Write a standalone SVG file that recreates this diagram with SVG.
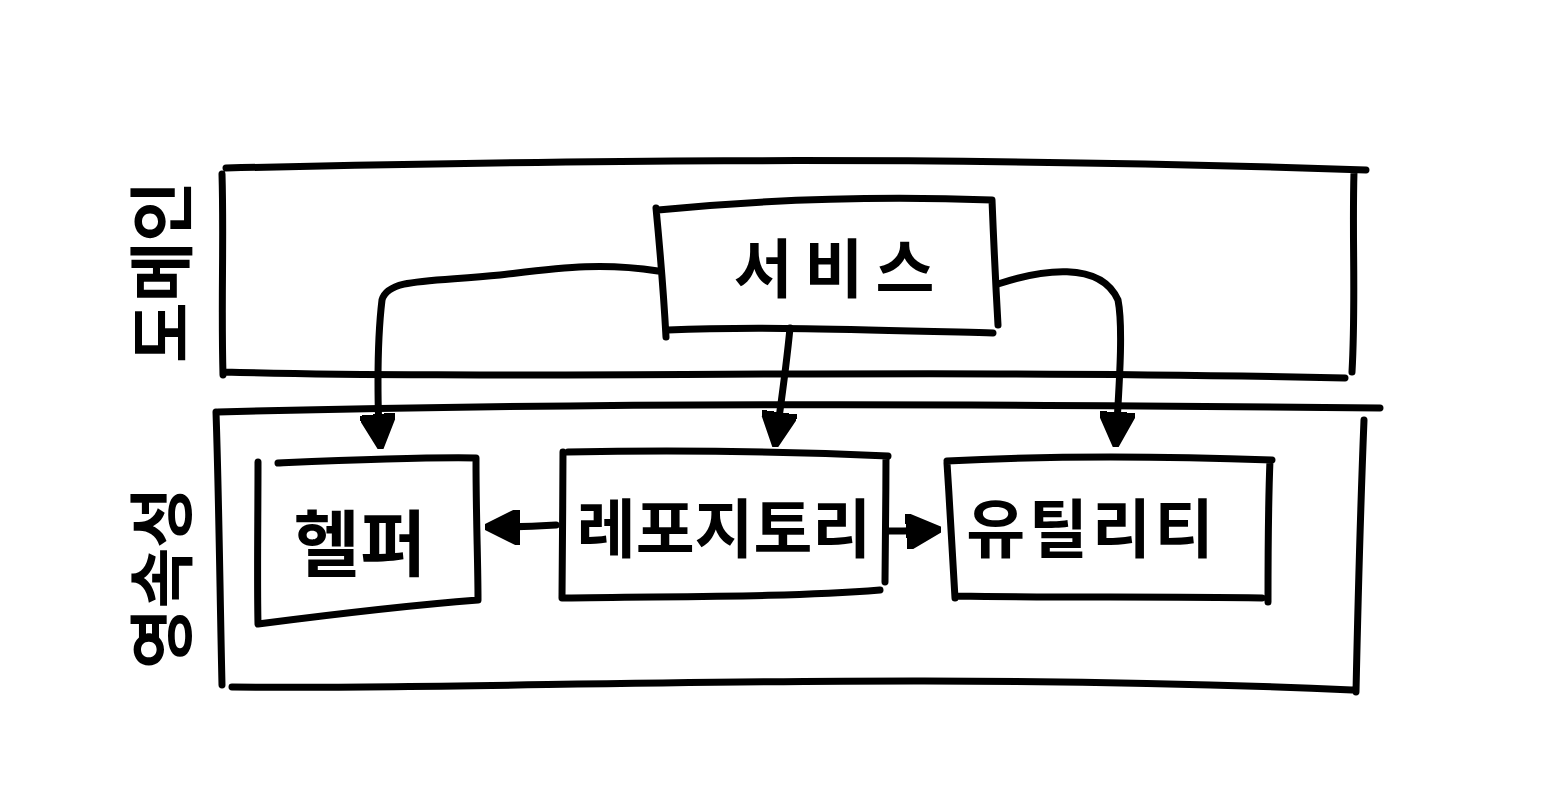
<svg xmlns="http://www.w3.org/2000/svg" width="1557" height="804" viewBox="0 0 1557 804">
<style>
.s{fill:none;stroke:#000;stroke-width:7;stroke-linecap:round;stroke-linejoin:round}
.t{font-family:"Noto Sans CJK KR","Noto Sans",sans-serif;font-weight:700;fill:#000}
</style>
<defs>
<marker id="ah" viewBox="0 0 10 10" refX="8" refY="5" markerWidth="5" markerHeight="5" orient="auto" markerUnits="strokeWidth">
<path d="M0,0 L10,5 L0,10 Z" fill="#000" stroke="#000" stroke-width="1.5" stroke-linejoin="round"/>
</marker>
</defs>
<rect width="1557" height="804" fill="#fff"/>
<g id="domain">
<path class="s" d="M226,168 C500,162 900,154 1366,170 M1354,172 C1352,240 1356,300 1352,372 M1345,378 C900,368 500,380 224,372 M222,174 C224,240 221,300 223,375"/>
<text class="t" font-size="66" transform="translate(186,272) rotate(-90)" text-anchor="middle">도메인</text>
</g>
<g id="persistence">
<path class="s" d="M218,412 C600,402 1000,404 1380,408 M1364,420 C1360,520 1358,600 1356,692 M1352,690 C900,670 500,690 232,687 M216,412 C219,500 220,600 222,685"/>
<text class="t" font-size="66" transform="translate(186,578) rotate(-90)" text-anchor="middle">영속성</text>
</g>
<g id="service">
<path class="s" d="M658,210 C760,200 880,196 992,200 M992,200 C994,250 996,290 998,325 M993,333 C880,330 760,326 668,330 M656,208 C660,250 664,300 666,337"/>
<text class="t" font-size="64" x="840" y="292" text-anchor="middle" letter-spacing="12">서비스</text>
</g>
<g id="helper">
<path class="s" d="M278,463 C350,460 420,457 476,458 M476,458 C476,520 478,560 478,600 M478,600 C400,606 320,616 258,624 M258,462 C258,520 257,580 258,624"/>
<text class="t" font-size="72" x="360" y="570" text-anchor="middle">헬퍼</text>
</g>
<g id="repository">
<path class="s" d="M568,452 C680,450 800,452 888,456 M886,456 C886,500 885,550 885,582 M880,590 C780,598 660,596 564,598 M563,452 C563,500 562,560 562,598"/>
<text class="t" font-size="64" x="724" y="552" text-anchor="middle">레포지토리</text>
</g>
<g id="utility">
<path class="s" d="M947,461 C1060,455 1160,456 1272,460 M1270,460 C1268,510 1268,560 1268,602 M1262,598 C1160,596 1060,598 958,596 M947,463 C950,510 953,560 955,598"/>
<text class="t" font-size="64" x="1092" y="552" text-anchor="middle" letter-spacing="4">유틸리티</text>
</g>
<g id="connectors">
<path class="s" d="M658,271 C600,262 560,268 500,275 C430,282 388,278 382,300 C376,350 378,420 380,442" marker-end="url(#ah)"/>
<path class="s" d="M790,328 C786,370 780,410 776,440" marker-end="url(#ah)"/>
<path class="s" d="M998,284 C1040,270 1100,260 1118,300 C1124,330 1118,400 1116,440" marker-end="url(#ah)"/>
<path class="s" d="M556,525 C540,526 510,527 492,527" marker-end="url(#ah)"/>
<path class="s" d="M888,531 C905,531 920,531 934,530" marker-end="url(#ah)"/>
</g>
</svg>
